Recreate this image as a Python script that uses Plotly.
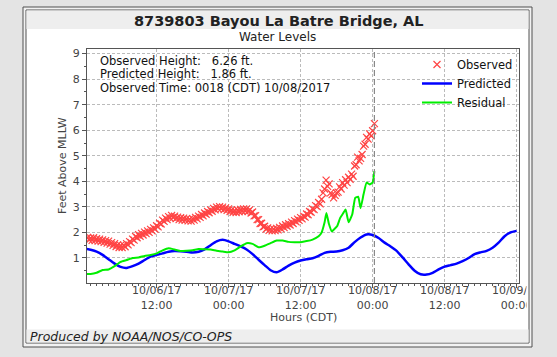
import pandas as pd
import plotly.graph_objects as go

# ---------------- data ----------------
t0 = pd.Timestamp("2017-10-06 00:00")

# Predicted (hourly, from 10/06 00:00)
pred_hours = list(range(0, 73))
pred_values = [1.37, 1.32, 1.25, 1.12, 0.95, 0.78, 0.65, 0.61, 0.68, 0.78,
               0.92, 1.05, 1.12, 1.18, 1.24, 1.27, 1.26, 1.24, 1.21, 1.24,
               1.34, 1.50, 1.65, 1.71, 1.65, 1.55, 1.45, 1.33, 1.15, 0.93,
               0.72, 0.52, 0.44, 0.55, 0.70, 0.82, 0.90, 0.95, 0.99, 1.08,
               1.20, 1.24, 1.25, 1.30, 1.40, 1.62, 1.80, 1.92, 1.90, 1.78,
               1.60, 1.45, 1.28, 1.02, 0.75, 0.50, 0.36, 0.35, 0.42, 0.55,
               0.66, 0.72, 0.78, 0.88, 1.00, 1.15, 1.22, 1.28, 1.40, 1.60,
               1.85, 2.00, 2.06]

# Observed: every 15 min from 10/06 00:30 to 10/08 00:00, then 00:18
obs_values = [
    1.80, 1.70, 1.78, 1.69, 1.79, 1.68, 1.76, 1.66,
    1.74, 1.64, 1.71, 1.61, 1.68, 1.58, 1.66, 1.54,
    1.60, 1.49, 1.56, 1.45, 1.51, 1.41, 1.49, 1.41,
    1.50, 1.44, 1.56, 1.51, 1.64, 1.60, 1.74, 1.70,
    1.84, 1.79, 1.91, 1.85, 1.96, 1.90, 2.01, 1.95,
    2.06, 2.00, 2.12, 2.06, 2.18, 2.13, 2.26, 2.22,
    2.36, 2.33, 2.48, 2.43, 2.56, 2.50, 2.62, 2.56,
    2.67, 2.58, 2.64, 2.54, 2.60, 2.50, 2.58, 2.48,
    2.56, 2.47, 2.54, 2.45, 2.52, 2.44, 2.54, 2.48,
    2.59, 2.53, 2.64, 2.59, 2.70, 2.65, 2.76, 2.71,
    2.82, 2.77, 2.88, 2.83, 2.94, 2.88, 2.99, 2.92,
    3.01, 2.92, 2.99, 2.89, 2.96, 2.86, 2.92, 2.82,
    2.88, 2.79, 2.86, 2.78, 2.88, 2.81, 2.90, 2.83,
    2.92, 2.84, 2.92, 2.82, 2.88, 2.76, 2.80, 2.65,
    2.66, 2.50, 2.50, 2.35, 2.36, 2.22, 2.24, 2.13,
    2.18, 2.08, 2.14, 2.06, 2.14, 2.07, 2.16, 2.10,
    2.20, 2.14, 2.25, 2.19, 2.30, 2.24, 2.34, 2.29,
    2.40, 2.35, 2.46, 2.41, 2.52, 2.47, 2.58, 2.53,
    2.64, 2.60, 2.72, 2.69, 2.82, 2.79, 2.92, 2.89,
    3.05, 3.01, 3.17, 3.12, 3.30, 3.55, 3.70, 4.05,
    3.80, 3.90, 3.55, 3.48, 3.35, 3.45, 3.55, 3.58,
    3.78, 3.70, 3.95, 3.85, 4.06, 3.95, 4.16, 4.08,
    4.28, 4.20, 4.60, 4.65, 4.95, 4.80, 4.90, 5.05,
    5.38, 5.45, 5.72, 5.65, 5.86, 5.78, 5.98,
    6.26,
]
obs_first = "2017-10-06 00:30"
obs_last = "2017-10-08 00:18"

# Residual
res_hours = [0, 1, 2, 3, 4, 5, 6, 7, 8, 9,
             10, 11, 12, 13, 14, 15, 16, 17, 18, 19,
             20, 21, 22, 23, 24, 25, 26, 27, 28, 29,
             30, 31, 32, 33, 34, 35, 36, 37, 38, 39,
             39.5, 40.0, 40.3, 40.7, 41.2, 41.7, 42.1, 42.6, 43.1, 43.5,
             44.0, 44.6, 45.1, 45.6, 46.0, 46.5, 47.0, 47.5, 48.0, 48.3]
res_values = [0.37, 0.37, 0.42, 0.53, 0.55, 0.68, 0.85, 0.92, 1.00, 1.02,
              1.08, 1.12, 1.18, 1.30, 1.38, 1.33, 1.27, 1.28, 1.30, 1.35,
              1.34, 1.33, 1.28, 1.25, 1.22, 1.30, 1.45, 1.58, 1.55, 1.42,
              1.48, 1.58, 1.68, 1.68, 1.63, 1.62, 1.62, 1.66, 1.72, 1.85,
              2.00, 2.40, 2.76, 2.35, 2.04, 2.15, 2.25, 2.57, 2.75, 2.90,
              2.40, 2.70, 3.35, 3.40, 2.95, 3.50, 3.95, 3.88, 3.95, 4.40]

tick_hours = [12, 24, 36, 48, 60, 72]
tick_labels = ["10/06/17<br>12:00", "10/07/17<br>00:00", "10/07/17<br>12:00",
               "10/08/17<br>00:00", "10/08/17<br>12:00", "10/09/17<br>00:00"]

info_lines = ["Observed Height:   6.26 ft.",
              "Predicted Height:   1.86 ft.",
              "Observed Time: 0018 (CDT) 10/08/2017"]
x_range_hours = [0.4, 72.4]


def to_time(hours):
    return [t0 + pd.Timedelta(hours=h) for h in hours]


obs_times = list(pd.date_range(obs_first, periods=len(obs_values) - 1,
                               freq="15min")) + [pd.Timestamp(obs_last)]

# ---------------- layout geometry ----------------
W, H = 557, 357
L, R, T, B = 87, 519, 49, 283
PW, PH = R - L, B - T


def px(x):
    return (x - L) / PW


def py(y):
    return (B - y) / PH


FONT = "DejaVu Sans"
TXT = "#333333"
BG = "#e4e4e4"
FRAME = "#505050"
GAP = "#f2f2f2"

fig = go.Figure()

fig.add_trace(go.Scatter(
    x=obs_times, y=obs_values, mode="markers", name="Observed",
    marker=dict(symbol="x-thin", size=7, color="#ff4444",
                line=dict(color="#ff4444", width=1.2)),
))
fig.add_trace(go.Scatter(
    x=to_time(pred_hours), y=pred_values, mode="lines", name="Predicted",
    line=dict(color="#0000ff", width=2.5, shape="spline", smoothing=0.6),
))
fig.add_trace(go.Scatter(
    x=to_time(res_hours), y=res_values, mode="lines", name="Residual",
    line=dict(color="#00ee00", width=2, shape="spline", smoothing=0.4),
))


def prect(x0, x1, y0, y1, fill, layer="below", line=None):
    return dict(type="rect", xref="paper", yref="paper",
                x0=px(x0), x1=px(x1), y0=py(y1), y1=py(y0),
                line=line or dict(width=0), fillcolor=fill, layer=layer)


def vline(x, y0, y1):
    return dict(type="line", xref="paper", yref="paper", x0=px(x), x1=px(x),
                y0=py(y1), y1=py(y0), line=dict(color=FRAME, width=1),
                layer="above")


shapes = [
    prect(23, 532, 7, 347, GAP, line=dict(color=FRAME, width=1)),
    prect(26, 529, 10, 343, "#ffffff", line=dict(color=FRAME, width=1)),
    prect(26.5, 528.5, 10.5, 29, "#eeeeee"),
    prect(26.5, 528.5, 329.5, 342.5, "#eeeeee"),
    # clip tick labels at the panel's right edge, as in the original
    prect(526.5, 529, 285, 326, "#ffffff", layer="above"),
    prect(529, 532, 285, 326, GAP, layer="above"),
    prect(532, 557, 285, 326, BG, layer="above"),
    vline(529, 285, 326),
    vline(532, 285, 326),
    dict(type="line", xref="x", yref="paper", x0=obs_last, x1=obs_last,
         y0=0, y1=1, line=dict(color="#888888", width=1.2, dash="6px,3px"),
         layer="above"),
]

annotations = [
    dict(text="<b>8739803 Bayou La Batre Bridge, AL</b>", x=px(278.5),
         y=py(20.7), xref="paper", yref="paper", showarrow=False,
         font=dict(family=FONT, size=14.5, color="#222222"),
         xanchor="center", yanchor="middle"),
    dict(text="Water Levels", x=px(277), y=py(36.7), xref="paper",
         yref="paper", showarrow=False,
         font=dict(family=FONT, size=12, color="#222222"),
         xanchor="center", yanchor="middle"),
    dict(text="Feet Above MLLW", x=px(62), y=0.5, xref="paper",
         yref="paper", showarrow=False, textangle=-90,
         font=dict(family=FONT, size=11, color="#444444"),
         xanchor="center", yanchor="middle"),
    dict(text="Hours (CDT)", x=0.5, y=py(317), xref="paper", yref="paper",
         showarrow=False, font=dict(family=FONT, size=11, color="#444444"),
         xanchor="center", yanchor="middle"),
    dict(text="<i>Produced by NOAA/NOS/CO-OPS</i>", x=px(28.4),
         y=py(336), xref="paper", yref="paper", showarrow=False,
         font=dict(family=FONT, size=12.5, color="#222222"),
         xanchor="left", yanchor="middle"),
]
for line, yy in zip(info_lines, [60.7, 74.3, 88.3]):
    annotations.append(dict(
        text=line.replace("   ", "&nbsp;&nbsp;&nbsp;"), x=px(98),
        y=py(yy), xref="paper", yref="paper", showarrow=False,
        font=dict(family=FONT, size=11.5, color="#111111"),
        xanchor="left", yanchor="middle"))

fig.update_layout(
    width=W, height=H,
    margin=dict(l=L, r=W - R, t=T, b=H - B, pad=0),
    paper_bgcolor=BG,
    plot_bgcolor="#ffffff",
    font=dict(family=FONT, size=11, color=TXT),
    shapes=shapes,
    annotations=annotations,
    legend=dict(x=px(417), y=py(50), xanchor="left", yanchor="top",
                bgcolor="rgba(0,0,0,0)", borderwidth=0,
                font=dict(family=FONT, size=11.5, color="#111111"),
                itemwidth=30, tracegroupgap=0),
    showlegend=True,
)

fig.update_xaxes(
    type="date", range=to_time(x_range_hours),
    tickmode="array", tickvals=to_time(tick_hours), ticktext=tick_labels,
    ticks="outside", ticklen=4, tickcolor="#555555",
    ticklabelstandoff=-7,
    tickfont=dict(family=FONT, size=11, color="#444444"),
    showgrid=True, gridcolor="#bbbbbb", griddash="3px,2px", gridwidth=1,
    showline=True, linecolor="#555555", linewidth=1, mirror=True,
    zeroline=False,
    minor=dict(dtick=3600 * 1000, ticks="outside", ticklen=2,
               tickcolor="#555555", showgrid=False),
)
fig.update_yaxes(
    range=[0.02, 9.18], tick0=0, dtick=1,
    ticks="outside", ticklen=4, tickcolor="#555555",
    tickfont=dict(family=FONT, size=11, color="#444444"),
    showgrid=True, gridcolor="#bbbbbb", griddash="3px,2px", gridwidth=1,
    showline=True, linecolor="#555555", linewidth=1, mirror=True,
    zeroline=False,
    minor=dict(dtick=0.5, ticks="outside", ticklen=2,
               tickcolor="#555555", showgrid=False),
)

fig.write_html(
    "out.html",
    config={"displayModeBar": False},
    post_script="document.body.style.margin='0';"
                "document.body.style.overflow='hidden';"
                "document.body.style.background='#e4e4e4';",
)
